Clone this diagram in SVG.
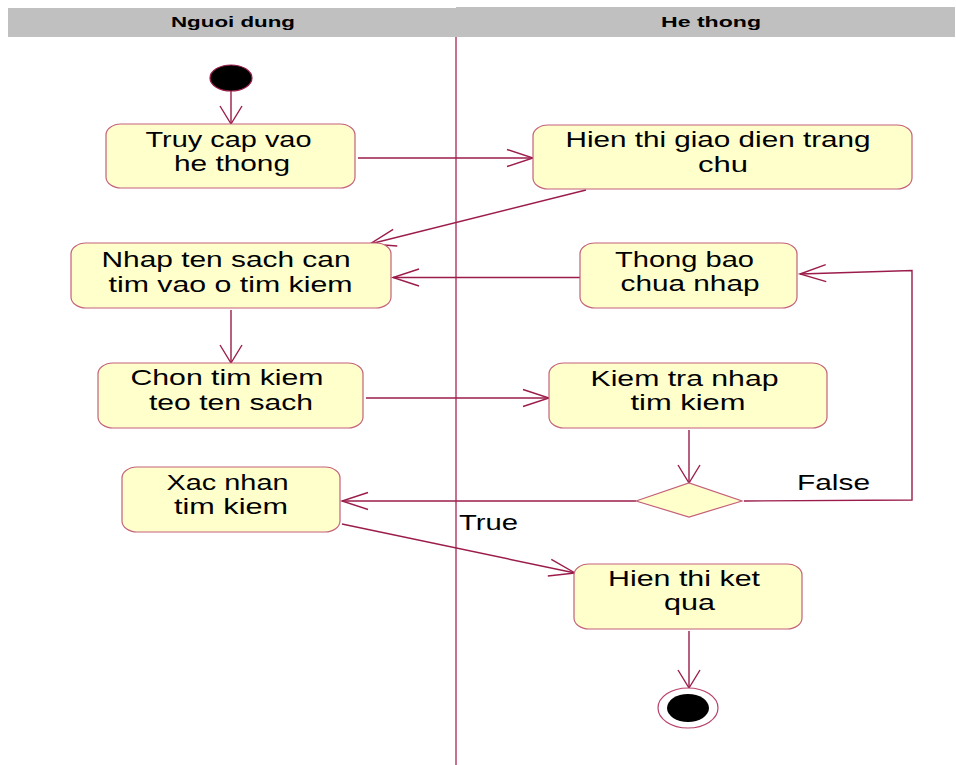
<svg xmlns="http://www.w3.org/2000/svg" width="956" height="765" viewBox="0 0 956 765">
  <style>
    .lane { fill: #c0c0c0; }
    .lane-title { font-family: "Liberation Sans", Arial, sans-serif; font-size: 15px; font-weight: bold; fill: #000; }
    .divider { stroke: #b8416a; stroke-width: 1.5; fill: none; }
    .act { fill: #ffffcc; stroke: #c4607a; stroke-width: 1.2; }
    .label { font-family: "Liberation Sans", Arial, sans-serif; font-size: 22px; fill: #000; }
    .flow { stroke: #9b1c4b; stroke-width: 1.4; fill: none; }
    .flow-h { marker-end: url(#arrowH); }
    .flow-v { marker-end: url(#arrowV); }
  </style>
  <defs>
    <marker id="arrowH" markerUnits="userSpaceOnUse" viewBox="-28 -10 30 20" refX="0" refY="0" markerWidth="30" markerHeight="20" orient="auto" overflow="visible">
      <path d="M-26,-8.5 L0,0 L-26,8.5" fill="none" stroke="#9b1c4b" stroke-width="1.4"/>
    </marker>
    <marker id="arrowV" markerUnits="userSpaceOnUse" viewBox="-20 -12 22 24" refX="0" refY="0" markerWidth="22" markerHeight="24" orient="auto" overflow="visible">
      <path d="M-18,-11 L0,0 L-18,11" fill="none" stroke="#9b1c4b" stroke-width="1.4"/>
    </marker>
  </defs>

  <rect width="956" height="765" fill="#ffffff"/>

  <!-- swimlane headers -->
  <g id="lanes">
    <rect class="lane" x="8" y="8" width="448" height="29"/>
    <rect class="lane" x="456" y="7" width="499" height="30"/>
    <text class="lane-title" x="171" y="27" textLength="124" lengthAdjust="spacingAndGlyphs">Nguoi dung</text>
    <text class="lane-title" x="661" y="27" textLength="100" lengthAdjust="spacingAndGlyphs">He thong</text>
    <line class="divider" x1="456" y1="37" x2="456" y2="765"/>
  </g>

  <!-- control flow -->
  <g id="connectors">
    <path class="flow flow-v" d="M231,91 L231,124"/>
    <path class="flow flow-h" d="M358,158 L533,158"/>
    <path class="flow flow-h" d="M586,190 L370,244"/>
    <path class="flow flow-h" d="M580,277.5 L393,277.5"/>
    <path class="flow flow-v" d="M231,310 L231,363"/>
    <path class="flow flow-h" d="M366,398 L549,398"/>
    <path class="flow flow-v" d="M689,430 L689,483"/>
    <path class="flow flow-h" d="M636,501 L342,501"/>
    <path class="flow flow-h" d="M744,501 L912,500 L912,270.5 L800,274"/>
    <path class="flow flow-h" d="M342,524 L575,573"/>
    <path class="flow flow-v" d="M689,631 L689,688"/>
    <text class="label" x="459" y="530" textLength="59" lengthAdjust="spacingAndGlyphs">True</text>
    <text class="label" x="797" y="490" textLength="73" lengthAdjust="spacingAndGlyphs">False</text>
  </g>

  <g id="start">
    <ellipse cx="231" cy="78" rx="21" ry="13" fill="#000" stroke="#9b1c4b" stroke-width="1.2"/>
  </g>

  <g id="truy-cap">
    <rect class="act" x="106" y="124" width="249" height="64" rx="15" ry="11"/>
    <text class="label" x="145.5" y="147" textLength="166" lengthAdjust="spacingAndGlyphs">Truy cap vao</text>
    <text class="label" x="174" y="171" textLength="116" lengthAdjust="spacingAndGlyphs">he thong</text>
  </g>

  <g id="hien-thi-trang-chu">
    <rect class="act" x="533" y="125" width="379" height="64" rx="15" ry="11"/>
    <text class="label" x="565.5" y="147" textLength="305" lengthAdjust="spacingAndGlyphs">Hien thi giao dien trang</text>
    <text class="label" x="698" y="172" textLength="50" lengthAdjust="spacingAndGlyphs">chu</text>
  </g>

  <g id="nhap-ten-sach">
    <rect class="act" x="71" y="243" width="320" height="65" rx="15" ry="11"/>
    <text class="label" x="101.5" y="267" textLength="249" lengthAdjust="spacingAndGlyphs">Nhap ten sach can</text>
    <text class="label" x="108.5" y="292" textLength="244" lengthAdjust="spacingAndGlyphs">tim vao o tim kiem</text>
  </g>

  <g id="thong-bao">
    <rect class="act" x="580" y="243" width="217" height="65" rx="15" ry="11"/>
    <text class="label" x="615" y="267" textLength="139" lengthAdjust="spacingAndGlyphs">Thong bao</text>
    <text class="label" x="620.5" y="291" textLength="139" lengthAdjust="spacingAndGlyphs">chua nhap</text>
  </g>

  <g id="chon-tim-kiem">
    <rect class="act" x="98" y="363" width="265" height="65" rx="15" ry="11"/>
    <text class="label" x="130.5" y="385" textLength="193" lengthAdjust="spacingAndGlyphs">Chon tim kiem</text>
    <text class="label" x="149" y="410" textLength="164" lengthAdjust="spacingAndGlyphs">teo ten sach</text>
  </g>

  <g id="kiem-tra">
    <rect class="act" x="549" y="363" width="278" height="65" rx="15" ry="11"/>
    <text class="label" x="590.5" y="386" textLength="188" lengthAdjust="spacingAndGlyphs">Kiem tra nhap</text>
    <text class="label" x="630.5" y="410" textLength="115" lengthAdjust="spacingAndGlyphs">tim kiem</text>
  </g>

  <g id="decision">
    <polygon class="act" points="636,501 689,483 742,501 689,517"/>
  </g>

  <g id="xac-nhan">
    <rect class="act" x="122" y="467" width="218" height="65" rx="15" ry="11"/>
    <text class="label" x="166.5" y="489.5" textLength="122" lengthAdjust="spacingAndGlyphs">Xac nhan</text>
    <text class="label" x="174" y="514" textLength="114" lengthAdjust="spacingAndGlyphs">tim kiem</text>
  </g>

  <g id="hien-thi-ket-qua">
    <rect class="act" x="574" y="564" width="228" height="65" rx="15" ry="11"/>
    <text class="label" x="608" y="586" textLength="152" lengthAdjust="spacingAndGlyphs">Hien thi ket</text>
    <text class="label" x="664" y="610" textLength="51" lengthAdjust="spacingAndGlyphs">qua</text>
  </g>

  <g id="end">
    <ellipse cx="688" cy="708" rx="30" ry="20" fill="#ffffff" stroke="#b8416a" stroke-width="1.2"/>
    <ellipse cx="688" cy="708" rx="21" ry="14" fill="#000"/>
  </g>
</svg>
